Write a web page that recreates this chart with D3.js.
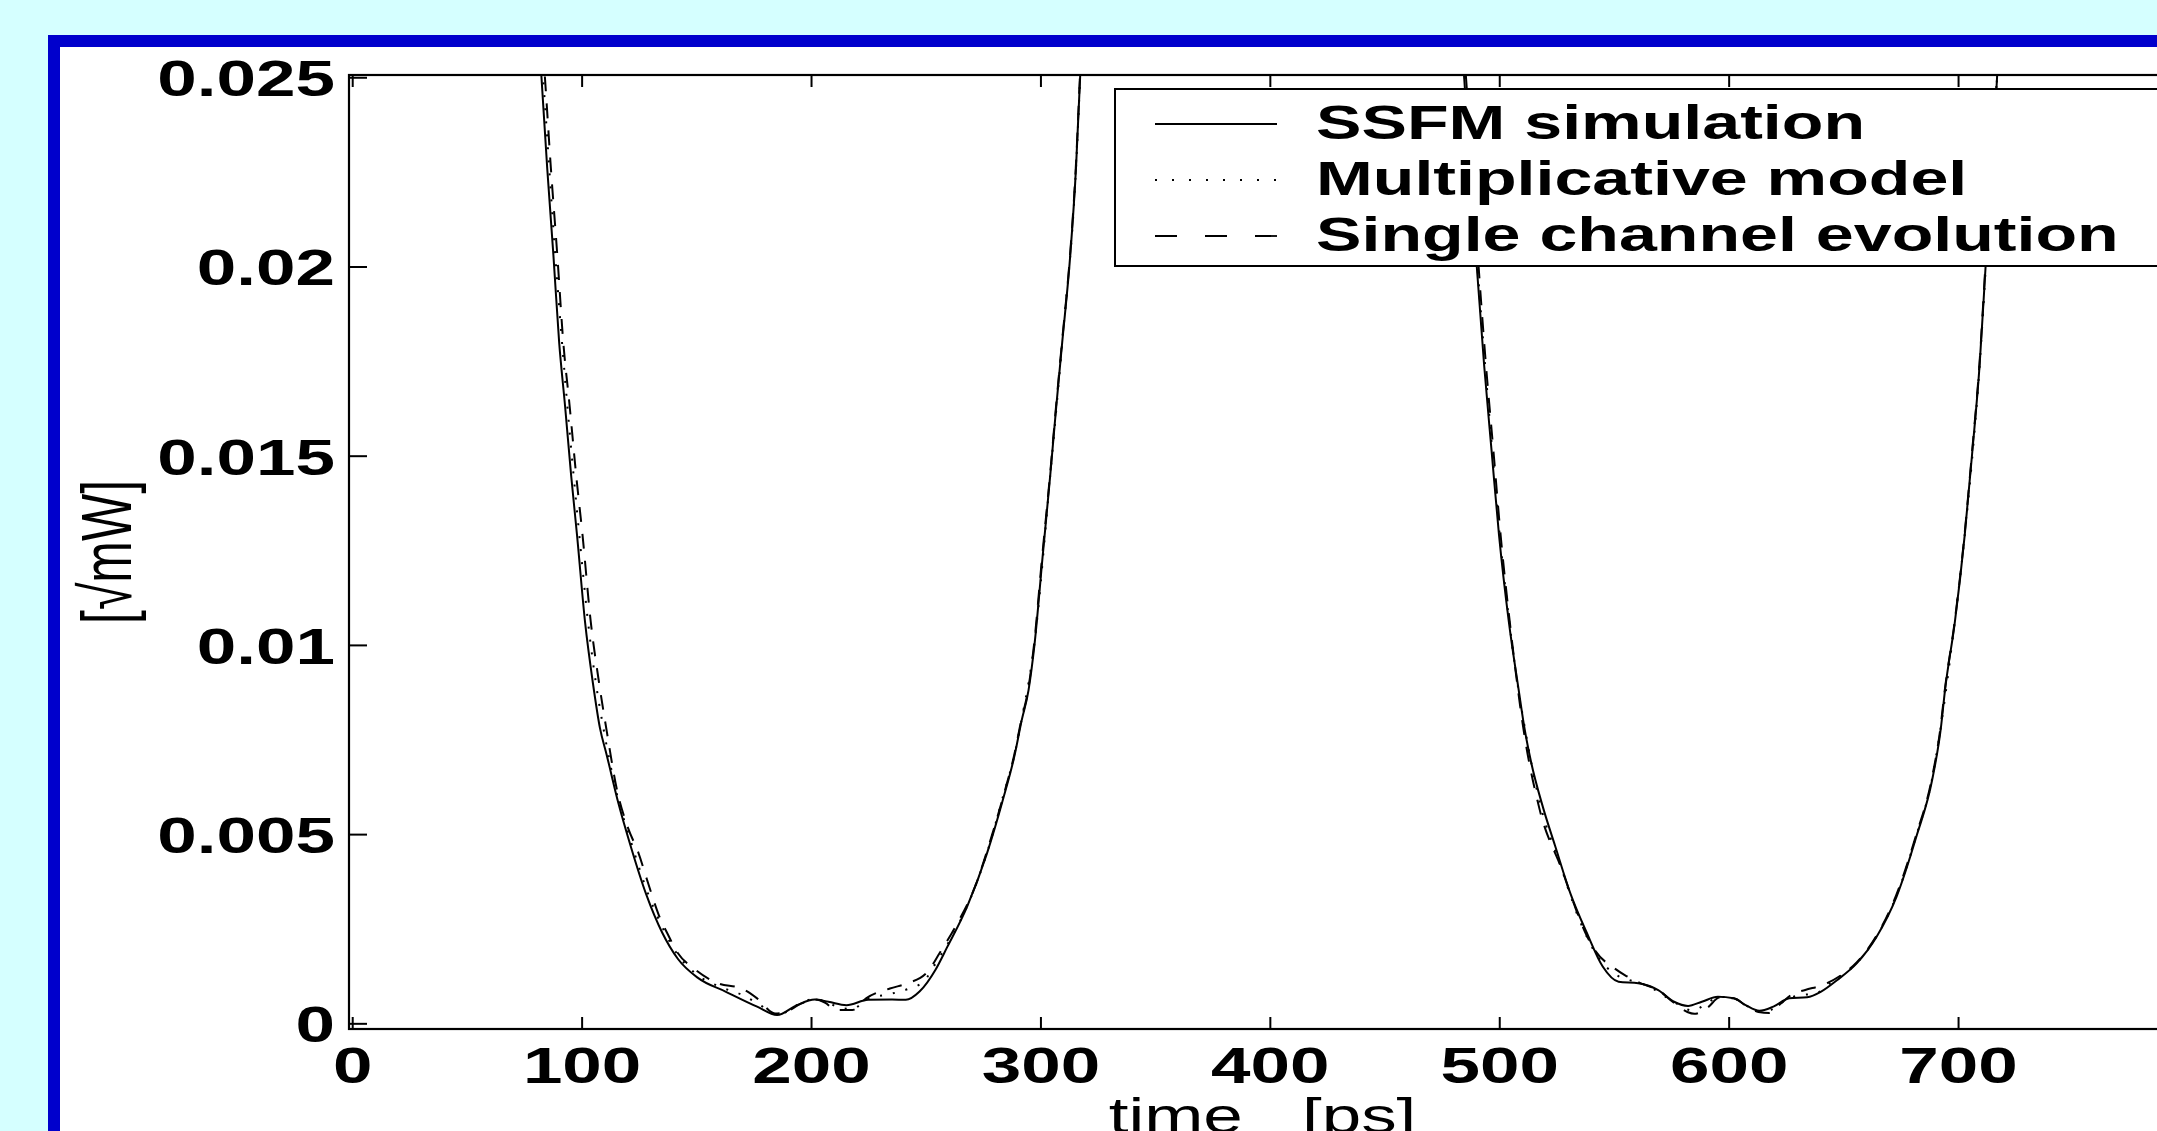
<!DOCTYPE html>
<html>
<head>
<meta charset="utf-8">
<script src="https://cdn.jsdelivr.net/npm/d3@7.9.0/dist/d3.min.js"></script>
<style>
  html, body { margin: 0; padding: 0; background: #d5ffff; overflow: hidden; }
  svg { display: block; }
  text { font-family: 'Liberation Sans', Arial, Helvetica, sans-serif; fill: #000; }
</style>
</head>
<body>
<svg id="chart"></svg>
<script>
// [time ps, amplitude sqrt(mW)]
const ssfm = [
  [77, 0.0300], [82.5, 0.0250], [85.0, 0.0226], [87.7, 0.0203], [90.2, 0.0180],
  [92.8, 0.0163], [95.4, 0.0145], [98.0, 0.0129], [101.5, 0.0106], [104.9, 0.0090],
  [108.0, 0.0078], [110.9, 0.0071], [116.1, 0.0058], [121.3, 0.0047], [128.2, 0.0034],
  [135.1, 0.0024], [142.0, 0.0017], [150.7, 0.0012], [162.7, 0.00084], [176.5, 0.00044],
  [185.2, 0.00022], [193.8, 0.00048], [201.6, 0.00063], [207.6, 0.00057], [215.4, 0.00048],
  [224.9, 0.00062], [235.3, 0.00063], [241.3, 0.00062], [247.3, 0.00084], [254.2, 0.00141],
  [259.4, 0.00202], [268.0, 0.00308], [276.7, 0.00449], [283.6, 0.00590], [288.8, 0.0071],
  [291.8, 0.0080], [294.8, 0.0088], [297.4, 0.0100], [300.9, 0.0123], [304.3, 0.0145],
  [306.9, 0.0163], [309.5, 0.0180], [313.0, 0.0203], [315.5, 0.0226], [317.3, 0.0250],
  [320.5, 0.0300],
  [479, 0.0300], [484.7, 0.0250], [487.4, 0.0225], [490.2, 0.0200], [493.4, 0.0174],
  [496.7, 0.0151], [499.9, 0.0129], [504.2, 0.0106], [508.5, 0.0088], [511.0, 0.0078],
  [513.9, 0.0069], [519.1, 0.0057], [524.3, 0.0047], [531.2, 0.0034], [538.1, 0.0024],
  [545.1, 0.0015], [552.0, 0.0011], [560.6, 0.00106], [569.3, 0.00088], [576.2, 0.00057],
  [582.3, 0.00046], [588.3, 0.00057], [595.3, 0.00070], [602.2, 0.00066], [607.4, 0.00048],
  [613.4, 0.00033], [619.5, 0.00044], [626.4, 0.00066], [634.2, 0.00069], [640.3, 0.00084],
  [647.2, 0.00114], [655.9, 0.00159], [664.5, 0.00229], [673.2, 0.00335], [681.8, 0.00493],
  [688.7, 0.00643], [692.5, 0.0078], [694.3, 0.0088], [698.6, 0.0106], [702.9, 0.0129],
  [706.2, 0.0151], [709.4, 0.0174], [712.0, 0.0200], [714.5, 0.0225], [717.0, 0.0250],
  [720.5, 0.0300]
];

const multiplicative = [
  [77, 0.0300], [83.2, 0.0250], [88.5, 0.0203], [93.8, 0.0163], [99.0, 0.0129],
  [102.8, 0.0106], [106.2, 0.0090], [109.5, 0.0078], [115.6, 0.0060], [121.0, 0.0049],
  [128.5, 0.0035], [135.5, 0.0025], [142.0, 0.0018], [150.0, 0.0013], [160.5, 0.00096],
  [170.0, 0.00075], [177.0, 0.00052], [184.8, 0.00024], [190.0, 0.00032], [195.0, 0.00052],
  [201.6, 0.00064], [207.0, 0.00056], [213.0, 0.00040], [218.0, 0.00038], [224.5, 0.00064],
  [234.8, 0.00078], [242.0, 0.00090], [249.0, 0.00110], [255.0, 0.00165], [261.0, 0.00225],
  [269.5, 0.00330], [277.2, 0.0046], [283.7, 0.0060], [288.7, 0.0071], [291.7, 0.0080],
  [297.3, 0.0100], [304.3, 0.0145], [309.5, 0.0180], [315.5, 0.0226], [317.3, 0.0250],
  [320.5, 0.0300],
  [479, 0.0300], [485.0, 0.0250], [490.5, 0.0200], [497.0, 0.0151], [500.2, 0.0129],
  [504.4, 0.0106], [508.4, 0.0088], [510.6, 0.0080], [518.2, 0.0057], [526.0, 0.0043],
  [534.5, 0.0028], [542.5, 0.0018], [551.0, 0.00128], [558.0, 0.00112], [565.0, 0.00098],
  [572.0, 0.00072], [578.0, 0.00050], [584.0, 0.00034], [590.0, 0.00050], [595.6, 0.00070],
  [602.2, 0.00066], [607.7, 0.00047], [613.2, 0.00031], [618.6, 0.00036], [624.5, 0.00060],
  [630.5, 0.00074], [637.5, 0.00078], [645.0, 0.00110], [656.0, 0.00160], [664.5, 0.00230],
  [673.1, 0.00336], [681.7, 0.00494], [688.6, 0.00644], [692.4, 0.0078], [698.5, 0.0106],
  [702.9, 0.0129], [709.4, 0.0174], [714.5, 0.0225], [717.0, 0.0250], [720.5, 0.0300]
];

const singleChannel = [
  [77.5, 0.0300], [84.0, 0.0250], [86.6, 0.0226], [89.4, 0.0203], [92.0, 0.0180],
  [94.8, 0.0163], [97.6, 0.0145], [100.4, 0.0129], [104.0, 0.0106], [107.6, 0.0090],
  [111.0, 0.0077], [115.3, 0.0062], [120.0, 0.0052], [124.8, 0.0045], [129.0, 0.0037],
  [133.4, 0.0029], [138.0, 0.0023], [142.0, 0.00185], [148.9, 0.00145], [159.3, 0.00106],
  [169.7, 0.00092], [176.5, 0.00066], [184.3, 0.00026], [189.0, 0.00030], [195.0, 0.00050],
  [201.6, 0.00063], [206.0, 0.00055], [211.1, 0.00035], [218.0, 0.00035], [224.0, 0.00066],
  [234.4, 0.00092], [242.2, 0.00106], [250.8, 0.00136], [256.0, 0.00185], [262.9, 0.00255],
  [271.5, 0.00361], [277.5, 0.0047], [283.8, 0.0060], [288.6, 0.0071], [291.6, 0.0080],
  [294.6, 0.0088], [297.2, 0.0100], [300.7, 0.0123], [304.2, 0.0145], [306.8, 0.0163],
  [309.4, 0.0180], [312.9, 0.0203], [315.4, 0.0226], [317.2, 0.0250], [320.4, 0.0300],
  [478.5, 0.0300], [485.5, 0.0250], [488.3, 0.0225], [491.0, 0.0200], [494.2, 0.0174],
  [497.5, 0.0151], [500.6, 0.0129], [504.6, 0.0106], [508.2, 0.0088], [510.0, 0.0080],
  [517.4, 0.0057], [527.7, 0.0040], [532.9, 0.0031], [537.5, 0.0024], [541.6, 0.00194],
  [550.3, 0.00145], [555.4, 0.00125], [562.0, 0.00105], [569.3, 0.00088], [576.0, 0.00055],
  [582.0, 0.00030], [585.0, 0.00025], [590.9, 0.00042], [596.0, 0.00068], [602.2, 0.00066],
  [608.0, 0.00045], [613.0, 0.00030], [617.7, 0.00027], [622.9, 0.00053], [628.0, 0.00078],
  [633.4, 0.00088], [642.9, 0.00106], [648.5, 0.00125], [656.0, 0.00162], [664.5, 0.00232],
  [673.0, 0.00338], [681.6, 0.00495], [688.5, 0.00645], [692.3, 0.0078], [694.2, 0.0088],
  [698.5, 0.0106], [702.8, 0.0129], [706.1, 0.0151], [709.3, 0.0174], [711.9, 0.0200],
  [714.4, 0.0225], [716.9, 0.0250], [720.4, 0.0300]
];

const xTicks = [0, 100, 200, 300, 400, 500, 600, 700];
const yTicks = [0, 0.005, 0.01, 0.015, 0.02, 0.025];
const yTickLabels = ['0', '0.005', '0.01', '0.015', '0.02', '0.025'];
const legendLabels = ['SSFM simulation', 'Multiplicative model', 'Single channel evolution'];
const xLabel = 'time   [ps]';
const yLabel = '[\u221AmW]';

const width = 2157;
const height = 1131;
const SX = 1.42; // the original figure is stretched sideways

const plot = { left: 349, right: 2176, top: 75, bottom: 1029 };

const svg = d3.select('#chart').attr('width', width).attr('height', height);

// slide background + blue frame
svg.append('rect').attr('width', width).attr('height', height).attr('fill', '#d5ffff');
svg.append('rect').attr('x', 48).attr('y', 35).attr('width', 2300).attr('height', 1300).attr('fill', '#0000cc');
svg.append('rect').attr('x', 60).attr('y', 47).attr('width', 2300).attr('height', 1300).attr('fill', '#fff');

const x = d3.scaleLinear().domain([-1.4, 795]).range([plot.left, plot.right]);
const y = d3.scaleLinear().domain([-0.00015, 0.02506]).range([plot.bottom, plot.top]);

svg.append('clipPath').attr('id', 'clip')
  .append('rect')
  .attr('x', plot.left).attr('y', plot.top)
  .attr('width', plot.right - plot.left).attr('height', plot.bottom - plot.top);

const line = d3.line()
  .x((d) => x(d[0]))
  .y((d) => y(d[1]))
  .curve(d3.curveMonotoneX);

const series = [
  { data: ssfm, dash: null },
  { data: multiplicative, dash: '2,11' },
  { data: singleChannel, dash: '15,12' },
];

const lines = svg.append('g').attr('clip-path', 'url(#clip)');
lines.selectAll('path')
  .data(series)
  .join('path')
  .attr('d', (d) => line(d.data))
  .attr('fill', 'none')
  .attr('stroke', '#000')
  .attr('stroke-width', 2)
  .attr('stroke-dasharray', (d) => d.dash);

// axes
function styleTicks(g) {
  g.select('.domain').remove();
  g.selectAll('line').attr('stroke', '#000').attr('stroke-width', 2);
}

const gx = svg.append('g')
  .attr('transform', `translate(0,${plot.bottom})`)
  .call(d3.axisBottom(x).tickValues(xTicks).tickSize(-12).tickSizeOuter(0).tickFormat(d3.format('d')));
styleTicks(gx);
gx.selectAll('text')
  .attr('y', null).attr('dy', null)
  .attr('transform', `translate(0,54) scale(${SX},1)`)
  .attr('font-size', 50).attr('font-weight', 'bold')
  .attr('text-anchor', 'middle');

const gxTop = svg.append('g')
  .attr('transform', `translate(0,${plot.top})`)
  .call(d3.axisTop(x).tickValues(xTicks).tickSize(-12).tickSizeOuter(0).tickFormat(''));
styleTicks(gxTop);

const gy = svg.append('g')
  .attr('transform', `translate(${plot.left},0)`)
  .call(d3.axisLeft(y).tickValues(yTicks).tickSize(-18).tickSizeOuter(0).tickFormat((d, i) => yTickLabels[i]));
styleTicks(gy);
gy.selectAll('text')
  .attr('x', null).attr('dy', null)
  .attr('transform', `translate(-14,18.5) scale(${SX},1)`)
  .attr('font-size', 50).attr('font-weight', 'bold')
  .attr('text-anchor', 'end');

const gyRight = svg.append('g')
  .attr('transform', `translate(${plot.right},0)`)
  .call(d3.axisRight(y).tickValues(yTicks).tickSize(-18).tickSizeOuter(0).tickFormat(''));
styleTicks(gyRight);

// axes box
svg.append('rect')
  .attr('x', plot.left).attr('y', plot.top)
  .attr('width', plot.right - plot.left).attr('height', plot.bottom - plot.top)
  .attr('fill', 'none').attr('stroke', '#000').attr('stroke-width', 2.2);

// axis labels
svg.append('text')
  .attr('transform', `translate(${(plot.left + plot.right) / 2},1133) scale(${SX},1)`)
  .attr('text-anchor', 'middle')
  .attr('font-size', 50)
  .style('white-space', 'pre')
  .text(xLabel);

svg.append('text')
  .attr('transform', `translate(131,${(plot.top + plot.bottom) / 2}) scale(${SX},1) rotate(-90)`)
  .attr('text-anchor', 'middle')
  .attr('font-size', 50)
  .text(yLabel);

// legend
const legend = svg.append('g');
legend.append('rect')
  .attr('x', 1115).attr('y', 89).attr('width', 1060).attr('height', 177)
  .attr('fill', '#fff').attr('stroke', '#000').attr('stroke-width', 2);

const legendDash = [null, '2,15', '22,28'];
const rows = legend.selectAll('g.row')
  .data(legendLabels)
  .join('g')
  .attr('class', 'row')
  .attr('transform', (d, i) => `translate(0,${139 + i * 56})`);

rows.append('line')
  .attr('x1', 1155).attr('x2', 1277)
  .attr('y1', -15).attr('y2', -15)
  .attr('stroke', '#000').attr('stroke-width', 1.8)
  .attr('stroke-dasharray', (d, i) => legendDash[i]);

rows.append('text')
  .attr('transform', `translate(1316,0) scale(${SX},1)`)
  .attr('font-size', 48).attr('font-weight', 'bold')
  .text((d) => d);
</script>
</body>
</html>
